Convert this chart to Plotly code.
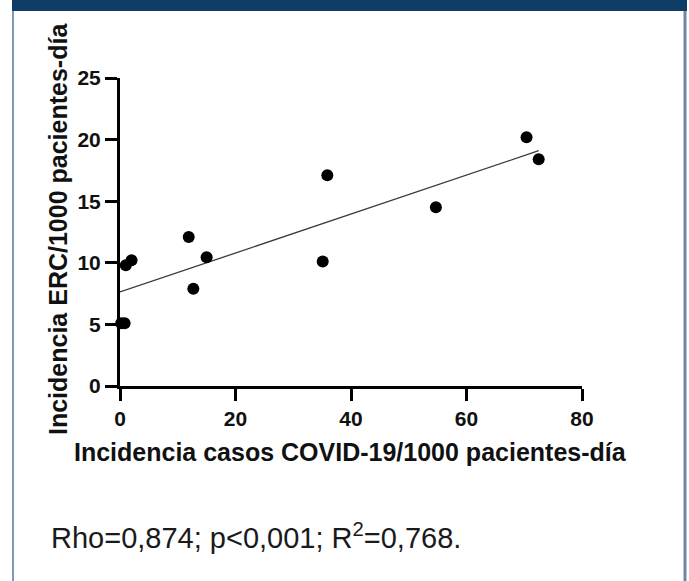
import numpy as np
import plotly.graph_objects as go

# Data
covid_incidence = [0.2, 0.8, 1.0, 2.0, 11.9, 12.7, 15.0, 35.1, 35.9, 54.7, 70.4, 72.5]
erc_incidence = [5.1, 5.1, 9.8, 10.2, 12.1, 7.9, 10.45, 10.1, 17.1, 14.5, 20.2, 18.4]
x_ticks = [0, 20, 40, 60, 80]
y_ticks = [0, 5, 10, 15, 20, 25]
stats_text = "Rho=0,874; p<0,001; R<sup>2</sup>=0,768."
x_title = "Incidencia casos COVID-19/1000 pacientes-día"
y_title = "Incidencia ERC/1000 pacientes-día"

W, H = 689, 581
L, R, T, B = 120, 582, 78, 386  # plot area in pixels


def px(xp):
    return (xp - L) / (R - L)


def py(yp):
    return (B - yp) / (B - T)


slope, intercept = np.polyfit(covid_incidence, erc_incidence, 1)
fit_x = np.array([0, max(covid_incidence)])
fit_y = intercept + slope * fit_x

fig = go.Figure()
fig.add_trace(go.Scatter(x=fit_x, y=fit_y, mode="lines",
                         line=dict(color="#3a3a3a", width=1.3),
                         hoverinfo="skip", showlegend=False, cliponaxis=False))
fig.add_trace(go.Scatter(x=covid_incidence, y=erc_incidence, mode="markers",
                         marker=dict(color="#000000", size=12),
                         showlegend=False, cliponaxis=False))

axis_font = dict(family="Liberation Sans, Arial, sans-serif", size=21, color="#111111")
title_font = dict(family="Liberation Sans, Arial, sans-serif", size=25, color="#111111")

fig.update_xaxes(range=[0, 80], tickvals=x_ticks, showgrid=False, zeroline=False,
                 showline=True, linecolor="#000", linewidth=3,
                 ticks="outside", ticklen=12, tickwidth=3, tickcolor="#000",
                 tickfont=dict(**axis_font, weight="bold"))
fig.update_yaxes(range=[0, 25], tickvals=y_ticks, showgrid=False, zeroline=False,
                 showline=True, linecolor="#000", linewidth=3,
                 ticks="outside", ticklen=12, tickwidth=3, tickcolor="#000",
                 tickfont=dict(**axis_font, weight="bold"))

shapes = [
    # header bar
    dict(type="rect", xref="paper", yref="paper", x0=px(12), x1=px(687),
         y0=py(11), y1=py(-2), fillcolor="#0e3e65", line=dict(width=0), layer="above"),
    # left border
    dict(type="line", xref="paper", yref="paper", x0=px(13), x1=px(13),
         y0=py(11), y1=py(585), line=dict(color="#7e9ab4", width=2)),
    # right border
    dict(type="line", xref="paper", yref="paper", x0=px(685), x1=px(685),
         y0=py(11), y1=py(585), line=dict(color="#6e88a3", width=3)),
]

annotations = [
    dict(text=x_title, xref="paper", yref="paper", x=px(350), y=py(452),
         xanchor="center", yanchor="middle", showarrow=False,
         font=dict(**title_font, weight="bold")),
    dict(text=y_title, xref="paper", yref="paper", x=px(58), y=py(229),
         xanchor="center", yanchor="middle", showarrow=False, textangle=-90,
         font=dict(**title_font, weight="bold")),
    dict(text=stats_text, xref="paper", yref="paper", x=px(49), y=py(536),
         xanchor="left", yanchor="middle", showarrow=False,
         font=dict(family="Liberation Sans, Arial, sans-serif", size=29, color="#1a1a1a")),
]

fig.update_layout(width=W, height=H, autosize=False,
                  margin=dict(l=L, r=W - R, t=T, b=H - B),
                  paper_bgcolor="#ffffff", plot_bgcolor="#ffffff",
                  shapes=shapes, annotations=annotations)

fig.write_html("out.html", config={"displayModeBar": False},
               post_script="document.body.style.margin='0';document.body.style.overflow='hidden';")
